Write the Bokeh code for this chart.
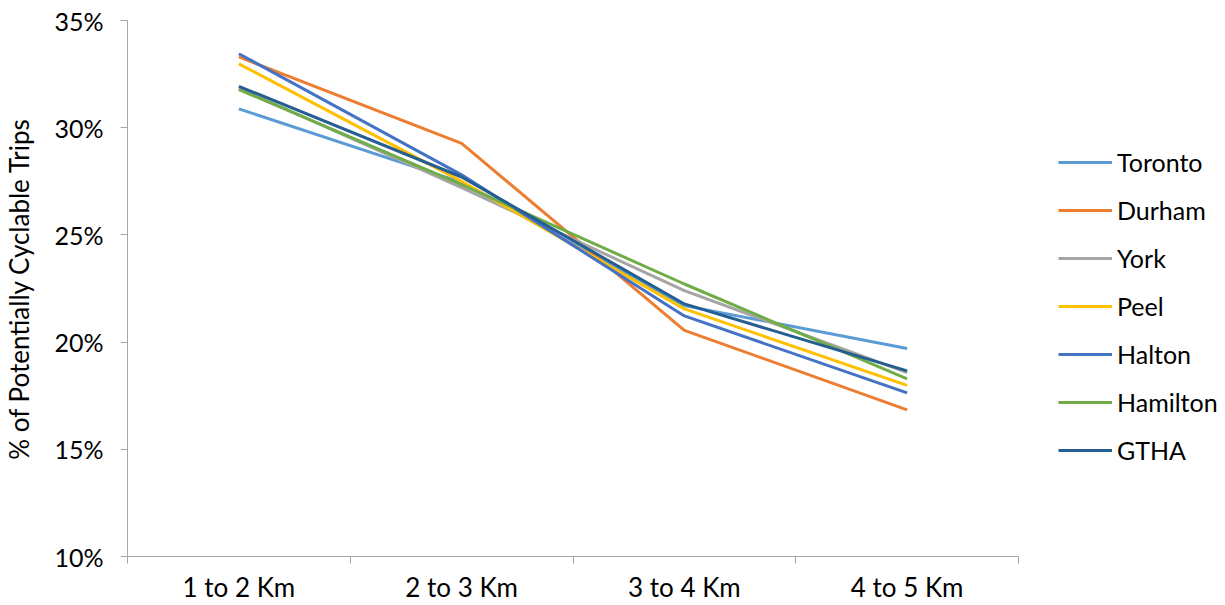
from bokeh.plotting import figure
from bokeh.models import (Range1d, FixedTicker, PrintfTickFormatter, Legend, LegendItem)
from bokeh.embed import file_html
from bokeh.resources import INLINE

# Share of potentially cyclable trips by trip-distance band, per region (%)
categories = ["1 to 2 Km", "2 to 3 Km", "3 to 4 Km", "4 to 5 Km"]
toronto = [30.88, 27.45, 21.70, 19.70]
durham = [33.30, 29.27, 20.55, 16.84]
york = [31.85, 27.20, 22.40, 18.58]
peel = [32.98, 27.50, 21.55, 17.98]
halton = [33.45, 27.80, 21.22, 17.63]
hamilton = [31.78, 27.35, 22.71, 18.29]
gtha = [31.93, 27.70, 21.78, 18.66]

series_names = ["Toronto", "Durham", "York", "Peel", "Halton", "Hamilton", "GTHA"]
series_values = [toronto, durham, york, peel, halton, hamilton, gtha]
series_colors = ["#5B9BD5", "#ED7D31", "#A5A5A5", "#FFC000", "#4472C4", "#70AD47", "#255E91"]
y_ticks = [10, 15, 20, 25, 30, 35]

FONT = "Lato"
FONT_SIZE = "25px"
AXIS_COLOR = "#A6A6A6"

W, H = 1225, 605
LEFT, TOP, BOTTOM = 127, 20, 48
PLOT_W = 891            # width of the charted area; the rest on the right holds the legend
n = len(categories)
x_pos = [i + 0.5 for i in range(n)]
x_end = n * (W - LEFT) / PLOT_W

p = figure(width=W, height=H, output_backend="svg", toolbar_location=None,
           x_range=Range1d(0, x_end), y_range=Range1d(10, 35),
           min_border_left=LEFT, min_border_right=0, min_border_top=TOP,
           min_border_bottom=BOTTOM)
p.outline_line_color = None
p.grid.grid_line_color = None
p.background_fill_color = "white"
p.border_fill_color = "white"

# x axis: labels centred on each band, tick marks at the band boundaries
xa = p.xaxis[0]
xa.bounds = (0, n)
xa.ticker = FixedTicker(ticks=x_pos, minor_ticks=list(range(n + 1)))
xa.major_label_overrides = {x: c for x, c in zip(x_pos, categories)}
xa.major_tick_out = 0
xa.major_tick_in = 0
xa.minor_tick_out = 7
xa.minor_tick_in = 0
xa.minor_tick_line_color = AXIS_COLOR
xa.axis_line_color = AXIS_COLOR
xa.major_label_text_font = FONT
xa.major_label_text_font_size = "26px"
xa.major_label_text_color = "#000000"
xa.major_label_standoff = 7

ya = p.yaxis[0]
ya.ticker = FixedTicker(ticks=y_ticks, minor_ticks=[])
ya.formatter = PrintfTickFormatter(format="%d%%")
ya.major_tick_out = 7
ya.major_tick_in = 0
ya.major_tick_line_color = AXIS_COLOR
ya.axis_line_color = AXIS_COLOR
ya.major_label_text_font = FONT
ya.major_label_text_font_size = FONT_SIZE
ya.major_label_text_color = "#000000"
ya.major_label_standoff = 17
ya.axis_label = "% of Potentially Cyclable Trips"
ya.axis_label_text_font = FONT
ya.axis_label_text_font_size = "26px"
ya.axis_label_text_font_style = "normal"
ya.axis_label_text_color = "#000000"
ya.axis_label_standoff = 16

items = []
for name, vals, col in zip(series_names, series_values, series_colors):
    r = p.line(x_pos, vals, line_color=col, line_width=3)
    items.append(LegendItem(label=name, renderers=[r]))

legend = Legend(items=items, location=(PLOT_W + 40, 91), orientation="vertical",
                glyph_width=54, glyph_height=30, label_height=30,
                label_standoff=5, spacing=18, padding=0, margin=0,
                border_line_color=None, background_fill_alpha=0,
                label_text_font=FONT, label_text_font_size=FONT_SIZE,
                label_text_color="#000000")
p.add_layout(legend, "center")

open("out.html", "w").write(file_html(p, INLINE))
